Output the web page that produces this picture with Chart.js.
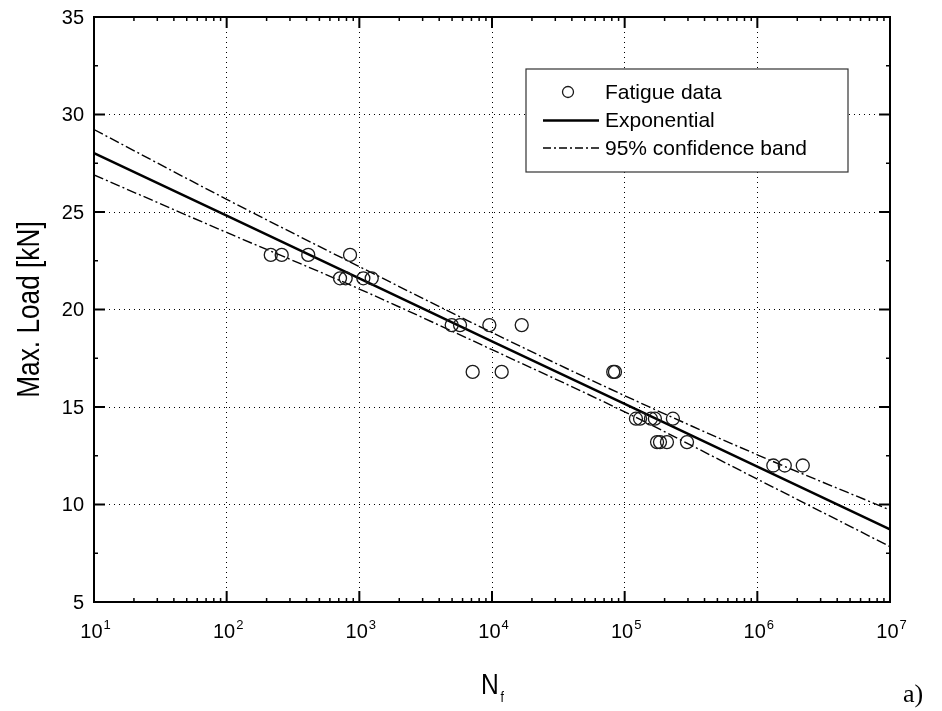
<!DOCTYPE html>
<html>
<head>
<meta charset="utf-8">
<script src="https://cdn.jsdelivr.net/npm/chart.js@4.4.1/dist/chart.umd.min.js"></script>
<style>
  html, body { margin: 0; padding: 0; background: #fff; }
  #wrap { width: 942px; height: 711px; position: relative; }
</style>
</head>
<body>
<div id="wrap"><canvas id="c"></canvas></div>
<script>
// Fatigue tests: cycles to failure and maximum load per specimen
const fatigueCycles = [
  215, 260, 412, 851,
  715, 789, 1072, 1240,
  4970, 5740, 9550, 16750,
  7150, 11830, 82000, 84500,
  121600, 130600, 157800, 169000, 231000,
  175400, 184600, 208300, 295000,
  1320000, 1610000, 2200000
];
const fatigueLoad = [
  22.8, 22.8, 22.8, 22.8,
  21.6, 21.6, 21.6, 21.6,
  19.2, 19.2, 19.2, 19.2,
  16.8, 16.8, 16.8, 16.8,
  14.4, 14.4, 14.4, 14.4, 14.4,
  13.2, 13.2, 13.2, 13.2,
  12.0, 12.0, 12.0
];

// Exponential fit and 95% confidence band, read at each decade
const fitCycles = [1e1, 1e2, 1e3, 1e4, 1e5, 1e6, 1e7];
const fitLoad   = [28.02, 24.81, 21.59, 18.37, 15.16, 11.94, 8.72];
const bandUpper = [29.23, 25.65, 22.20, 18.82, 15.58, 12.55, 9.72];
const bandLower = [26.90, 23.95, 21.05, 17.94, 14.75, 11.30, 7.84];

// Axis ticks and legend text
const yTickValues = [5, 10, 15, 20, 25, 30, 35];
const xTickExponents = [1, 2, 3, 4, 5, 6, 7];
const legendLabels = ['Fatigue data', 'Exponential', '95% confidence band'];

const SANS = '"Liberation Sans", Arial, Helvetica, sans-serif';
const SERIF = '"Liberation Serif", "Times New Roman", serif';
const BAND_DASH = [10, 3, 2, 3];

const pts = (xs, ys) => xs.map((v, i) => ({ x: v, y: ys[i] }));

// Frame, inward ticks, tick labels, titles and the boxed legend
const decorations = {
  id: 'decorations',
  afterDraw(chart) {
    const { ctx, chartArea: a, scales: { x, y } } = chart;
    const seg = (x1, y1, x2, y2) => { ctx.beginPath(); ctx.moveTo(x1, y1); ctx.lineTo(x2, y2); ctx.stroke(); };
    ctx.save();
    ctx.strokeStyle = '#000';
    ctx.setLineDash([]);

    // y ticks: major every 5, minor every 2.5
    for (let v = 5; v <= 35; v += 2.5) {
      const py = y.getPixelForValue(v);
      const major = v % 5 === 0;
      const len = major ? 11 : 4;
      ctx.lineWidth = major ? 2 : 1.5;
      seg(a.left, py, a.left + len, py);
      seg(a.right, py, a.right - len, py);
    }
    // x ticks: decades major, 2..9 minor
    for (let e = 1; e <= 7; e++) {
      for (let m = 1; m <= 9; m++) {
        if (e === 7 && m > 1) break;
        const px = x.getPixelForValue(m * Math.pow(10, e));
        const major = m === 1;
        const len = major ? 11 : 4;
        ctx.lineWidth = major ? 2 : 1.5;
        seg(px, a.bottom, px, a.bottom - len);
        seg(px, a.top, px, a.top + len);
      }
    }
    // plot frame
    ctx.lineWidth = 2;
    ctx.strokeRect(a.left, a.top, a.right - a.left, a.bottom - a.top);

    ctx.fillStyle = '#000';
    // y tick labels
    ctx.font = '20px ' + SANS;
    ctx.textAlign = 'right';
    ctx.textBaseline = 'middle';
    yTickValues.forEach(v => ctx.fillText(String(v), a.left - 10, y.getPixelForValue(v) + 1));

    // x tick labels as 10 with a raised exponent
    ctx.textBaseline = 'alphabetic';
    ctx.textAlign = 'left';
    xTickExponents.forEach(e => {
      const px = x.getPixelForValue(Math.pow(10, e));
      ctx.font = '20px ' + SANS;
      const wb = ctx.measureText('10').width;
      ctx.font = '13px ' + SANS;
      const we = ctx.measureText(String(e)).width;
      const x0 = px - (wb + we) / 2 + 1;
      ctx.font = '20px ' + SANS;
      ctx.fillText('10', x0, a.bottom + 36);
      ctx.font = '13px ' + SANS;
      ctx.fillText(String(e), x0 + wb + 1, a.bottom + 27);
    });

    // y axis title (narrow letterforms)
    ctx.save();
    ctx.translate(30, (a.top + a.bottom) / 2);
    ctx.rotate(-Math.PI / 2);
    ctx.scale(0.82, 1);
    ctx.font = '32px ' + SANS;
    ctx.textAlign = 'center';
    ctx.textBaseline = 'middle';
    ctx.fillText('Max. Load [kN]', 0, 0);
    ctx.restore();

    // x axis title N with subscript f
    ctx.save();
    ctx.translate(481, 694);
    ctx.scale(0.82, 1);
    ctx.font = '30px ' + SANS;
    ctx.textAlign = 'left';
    ctx.fillText('N', 0, 0);
    const wn = ctx.measureText('N').width;
    ctx.font = '15px ' + SANS;
    ctx.fillText('f', wn + 2, 8);
    ctx.restore();

    // panel tag
    ctx.font = '26px ' + SERIF;
    ctx.textAlign = 'left';
    ctx.fillText('a)', 903, 702);

    // legend box
    const box = { l: 526, t: 69, r: 848, b: 172 };
    ctx.fillStyle = '#fff';
    ctx.fillRect(box.l, box.t, box.r - box.l, box.b - box.t);
    ctx.strokeStyle = '#333';
    ctx.lineWidth = 1.2;
    ctx.strokeRect(box.l, box.t, box.r - box.l, box.b - box.t);

    const ds = chart.data.datasets;
    const rows = [92, 120.5, 148];
    const sx0 = 543, sx1 = 599, tx = 605;
    // marker sample
    ctx.strokeStyle = ds[0].borderColor;
    ctx.lineWidth = ds[0].borderWidth;
    ctx.beginPath(); ctx.arc(568, rows[0], 5.5, 0, Math.PI * 2); ctx.stroke();
    // solid line sample
    ctx.strokeStyle = ds[1].borderColor;
    ctx.lineWidth = ds[1].borderWidth;
    seg(sx0, rows[1], sx1, rows[1]);
    // dash-dot sample
    ctx.strokeStyle = ds[2].borderColor;
    ctx.lineWidth = ds[2].borderWidth;
    ctx.setLineDash([8, 3, 2, 3]);
    seg(sx0, rows[2], sx1, rows[2]);
    ctx.setLineDash([]);

    ctx.fillStyle = '#000';
    ctx.font = '21px ' + SANS;
    ctx.textAlign = 'left';
    ctx.textBaseline = 'middle';
    legendLabels.forEach((t, i) => ctx.fillText(t, tx, rows[i] + 1));

    ctx.restore();
  }
};

const gridStyle = { color: '#000', lineWidth: 1, drawTicks: false };

new Chart(document.getElementById('c'), {
  type: 'scatter',
  data: {
    datasets: [
      {
        label: legendLabels[0],
        data: pts(fatigueCycles, fatigueLoad),
        pointStyle: 'circle',
        pointRadius: 6.5,
        borderColor: '#1a1a1a',
        borderWidth: 1.3,
        backgroundColor: 'rgba(0,0,0,0)',
        showLine: false
      },
      {
        label: legendLabels[1],
        data: pts(fitCycles, fitLoad),
        showLine: true,
        borderColor: '#000',
        borderWidth: 2.5,
        pointRadius: 0,
        fill: false
      },
      {
        label: legendLabels[2],
        data: pts(fitCycles, bandUpper),
        showLine: true,
        borderColor: '#000',
        borderWidth: 1.4,
        borderDash: BAND_DASH,
        pointRadius: 0,
        cubicInterpolationMode: 'monotone',
        fill: false
      },
      {
        label: legendLabels[2] + ' (lower)',
        data: pts(fitCycles, bandLower),
        showLine: true,
        borderColor: '#000',
        borderWidth: 1.4,
        borderDash: BAND_DASH,
        pointRadius: 0,
        cubicInterpolationMode: 'monotone',
        fill: false
      }
    ]
  },
  options: {
    responsive: true,
    maintainAspectRatio: false,
    animation: false,
    layout: { padding: { left: 0, top: 17, right: 52, bottom: 0 } },
    plugins: { legend: { display: false }, tooltip: { enabled: false } },
    scales: {
      x: {
        type: 'logarithmic',
        min: 10,
        max: 1e7,
        afterBuildTicks: s => { s.ticks = xTickExponents.map(e => ({ value: Math.pow(10, e) })); },
        afterFit: s => { s.height = 109; },
        ticks: { display: false },
        grid: gridStyle,
        border: { display: false, dash: [1, 4] }
      },
      y: {
        type: 'linear',
        min: 5,
        max: 35,
        afterBuildTicks: s => { s.ticks = yTickValues.map(v => ({ value: v })); },
        afterFit: s => { s.width = 94; },
        ticks: { display: false },
        grid: gridStyle,
        border: { display: false, dash: [1, 4] }
      }
    }
  },
  plugins: [decorations]
});
</script>
</body>
</html>
